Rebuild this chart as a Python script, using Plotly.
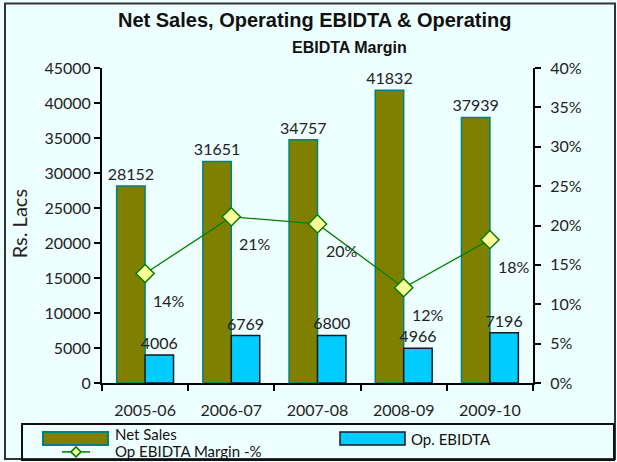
import plotly.graph_objects as go

# Data
years = ["2005-06", "2006-07", "2007-08", "2008-09", "2009-10"]
net_sales = [28152, 31651, 34757, 41832, 37939]
op_ebidta = [4006, 6769, 6800, 4966, 7196]
ebidta_margin = [13.9, 21.1, 20.2, 12.1, 18.2]

W, H = 617, 462
L, R, T, B = 102, 533, 67.5, 383  # plot area edges in pixels

def px(x):
    return (x - L) / (R - L)

def py(y):
    return (B - y) / (B - T)

FONT = "Lato"
OLIVE, OLIVE_EDGE = "#808000", "#008080"
CYAN, CYAN_EDGE = "#00CCFF", "#1a1a1a"
GREEN, YELLOW = "#008000", "#FFFF99"
BG = "#EEFFFF"

fig = go.Figure()

fig.add_trace(go.Bar(
    x=years, y=net_sales, name="Net Sales",
    marker=dict(color=OLIVE, line=dict(color=OLIVE_EDGE, width=1.5)),
    text=[str(v) for v in net_sales], textposition="outside", constraintext="none",
    textfont=dict(family=FONT, size=16, color="#222"), cliponaxis=False,
))
fig.add_trace(go.Bar(
    x=years, y=op_ebidta, name="Op. EBIDTA",
    marker=dict(color=CYAN, line=dict(color=CYAN_EDGE, width=1.5)),
    text=[str(v) for v in op_ebidta], textposition="outside", constraintext="none",
    textfont=dict(family=FONT, size=16, color="#222"), cliponaxis=False,
))
fig.add_trace(go.Scatter(
    x=years, y=ebidta_margin, name="Op EBIDTA Margin -%", yaxis="y2",
    mode="lines+markers",
    line=dict(color=GREEN, width=1.3),
    marker=dict(symbol="diamond", size=14, color=YELLOW,
                line=dict(color=GREEN, width=1.5)),
    cliponaxis=False,
))

annotations = []
# Margin labels below-right of each marker
for yr, m in zip(years, ebidta_margin):
    annotations.append(dict(
        x=yr, y=m, xref="x", yref="y2", text=f"{m:.0f}%", showarrow=False,
        xanchor="left", yanchor="middle", xshift=6, yshift=-27,
        font=dict(family=FONT, size=16, color="#222"),
    ))

# Titles
annotations.append(dict(
    x=px(314.5), y=py(19), xref="paper", yref="paper", showarrow=False,
    text="<b>Net Sales, Operating EBIDTA &amp; Operating</b>",
    font=dict(family="Liberation Sans", size=20, color="#111"),
    xanchor="center", yanchor="middle",
))
annotations.append(dict(
    x=px(349.5), y=py(47), xref="paper", yref="paper", showarrow=False,
    text="<b>EBIDTA Margin</b>",
    font=dict(family="Liberation Sans", size=16, color="#111"),
    xanchor="center", yanchor="middle",
))
annotations.append(dict(
    x=px(19), y=py(224), xref="paper", yref="paper", showarrow=False,
    text="Rs. Lacs", textangle=-90,
    font=dict(family=FONT, size=20, color="#222"),
    xanchor="center", yanchor="middle",
))

# Legend text
leg_font = dict(family=FONT, size=15, color="#111")
annotations += [
    dict(x=px(113), y=py(434), xref="paper", yref="paper", showarrow=False,
         text="Net Sales", xanchor="left", yanchor="middle", font=leg_font),
    dict(x=px(409), y=py(439), xref="paper", yref="paper", showarrow=False,
         text="Op. EBIDTA", xanchor="left", yanchor="middle", font=leg_font),
    dict(x=px(113), y=py(451), xref="paper", yref="paper", showarrow=False,
         text="Op EBIDTA Margin -%", xanchor="left", yanchor="middle", font=leg_font),
]

shapes = [
    # outer frame
    dict(type="rect", xref="paper", yref="paper", x0=px(5), x1=px(615),
         y0=py(459), y1=py(3), line=dict(color="#333", width=2), layer="below"),
    # legend frame
    dict(type="rect", xref="paper", yref="paper", x0=px(22), x1=px(614),
         y0=py(460), y1=py(424), line=dict(color="#111", width=2)),
    # legend swatches
    dict(type="rect", xref="paper", yref="paper", x0=px(43), x1=px(108),
         y0=py(445), y1=py(432), fillcolor=OLIVE, line=dict(color=OLIVE_EDGE, width=2)),
    dict(type="rect", xref="paper", yref="paper", x0=px(340), x1=px(405),
         y0=py(445), y1=py(432), fillcolor=CYAN, line=dict(color=CYAN_EDGE, width=1.5)),
    dict(type="line", xref="paper", yref="paper", x0=px(62), x1=px(90),
         y0=py(452), y1=py(452), line=dict(color=GREEN, width=1.5)),
    dict(type="path", xref="paper", yref="paper",
         path=(f"M {px(71)},{py(452)} L {px(76)},{py(447)} "
               f"L {px(81)},{py(452)} L {px(76)},{py(457)} Z"),
         fillcolor=YELLOW, line=dict(color=GREEN, width=1.5)),
]

tick_font = dict(family=FONT, size=16, color="#222")
axis_common = dict(showgrid=False, zeroline=False, showline=True,
                   linecolor="#000", linewidth=2, ticks="outside",
                   ticklen=6, tickwidth=2, tickcolor="#000", tickfont=tick_font)

fig.update_layout(
    width=W, height=H,
    margin=dict(l=L, r=W - R, t=T, b=H - B, pad=0),
    paper_bgcolor=BG, plot_bgcolor=BG,
    showlegend=False,
    barmode="group", bargap=0.34, bargroupgap=0,
    xaxis=dict(**axis_common, type="category", tickson="boundaries",
               range=[-0.5, 4.5], ticklabelstandoff=12),
    yaxis=dict(**axis_common, range=[0, 45000], dtick=5000, tickformat="d",
               ticklabelstandoff=0),
    yaxis2=dict(**axis_common, overlaying="y", side="right", range=[0, 40],
                dtick=5, ticksuffix="%", ticklabelstandoff=6),
    # inner tick halves so the ticks cross the axis lines
    xaxis2=dict(overlaying="x", range=[-0.5, 4.5], tick0=-0.5, dtick=1,
                ticks="inside", ticklen=5, tickwidth=2, tickcolor="#000",
                showticklabels=False, showgrid=False, zeroline=False, showline=False),
    yaxis3=dict(overlaying="y", side="left", range=[0, 45000], dtick=5000,
                ticks="inside", ticklen=5, tickwidth=2, tickcolor="#000",
                showticklabels=False, showgrid=False, zeroline=False, showline=False),
    yaxis4=dict(overlaying="y", side="right", range=[0, 40], dtick=5,
                ticks="inside", ticklen=5, tickwidth=2, tickcolor="#000",
                showticklabels=False, showgrid=False, zeroline=False, showline=False),
    annotations=annotations,
    shapes=shapes,
)

fig.write_html("out.html")
